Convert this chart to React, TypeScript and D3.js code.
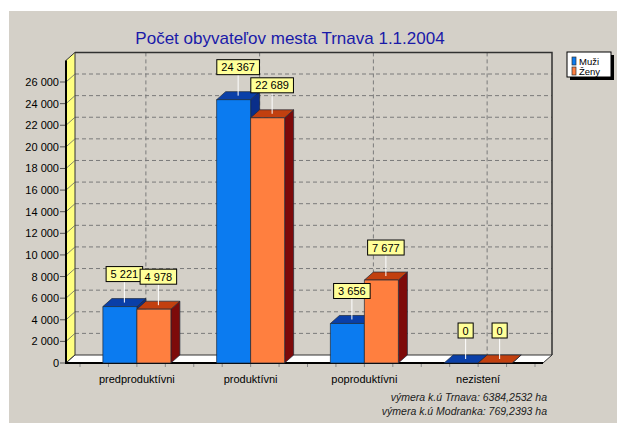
import React from "react";
import * as d3 from "d3";

const categories = ["predproduktívni", "produktívni", "poproduktívni", "nezistení"];
const seriesNames = ["Muži", "Ženy"];
const muzi = [5221, 24367, 3656, 0];
const zeny = [4978, 22689, 7677, 0];
const yTicks = [0, 2000, 4000, 6000, 8000, 10000, 12000, 14000, 16000, 18000, 20000, 22000, 24000, 26000];
const titleText = "Počet obyvateľov mesta Trnava 1.1.2004";
const footnotes = ["výmera k.ú Trnava: 6384,2532 ha", "výmera k.ú Modranka: 769,2393 ha"];

const W = 621;
const H = 424;
const DX = 9;
const DY = 8;
const FONT = "'Liberation Sans', Arial, sans-serif";

const palette = [
  { front: "#0b7bf0", top: "#0a3fa8", side: "#0a2f8a" },
  { front: "#ff7f3f", top: "#c2400f", side: "#7d0a0a" },
];

const locale = d3.formatLocale({ decimal: ",", thousands: "\u00a0", grouping: [3], currency: ["", ""] });
const fmt = locale.format(",d");

let ctx: CanvasRenderingContext2D | null = null;
function textW(s: string, size: number) {
  if (!ctx) {
    const c = document.createElement("canvas");
    ctx = c.getContext("2d");
  }
  if (!ctx) return s.length * size * 0.55;
  ctx.font = `${size}px ${FONT}`;
  return ctx.measureText(s).width;
}

export default function App() {
  const plotLeft = 66;
  const plotRight = 543;
  const y = d3.scaleLinear().domain([0, 28000]).range([363, 60.4]);
  const x = d3.scaleBand<string>().domain(categories).range([80, 535]).paddingInner(0).paddingOuter(0);
  const xs = d3.scaleBand<string>().domain(seriesNames).range([-34, 34]);
  const series = [muzi, zeny];

  const y0 = y(0);
  const yTop = y(28000);

  const barEls: React.ReactNode[] = [];
  const labelEls: React.ReactNode[] = [];

  categories.forEach((cat, ci) => {
    const cx = (x(cat) as number) + x.bandwidth() / 2;
    seriesNames.forEach((sn, si) => {
      const v = series[si][ci];
      const x0 = cx + (xs(sn) as number);
      const x1 = x0 + xs.bandwidth();
      const yt = y(v);
      const col = palette[si];
      barEls.push(
        <g key={`b-${ci}-${si}`} stroke="#1e2a3a" strokeWidth={0.7} strokeLinejoin="round">
          <polygon points={`${x1},${yt} ${x1 + DX},${yt - DY} ${x1 + DX},${y0 - DY} ${x1},${y0}`} fill={col.side} />
          <polygon points={`${x0},${yt} ${x1},${yt} ${x1 + DX},${yt - DY} ${x0 + DX},${yt - DY}`} fill={col.top} />
          <rect x={x0} y={yt} width={x1 - x0} height={y0 - yt} fill={col.front} />
        </g>
      );
      const txt = fmt(v);
      const bw = textW(txt, 11) + 9;
      const lx = (x0 + x1) / 2 + DX / 2;
      const ly = yt - DY / 2;
      const boxBottom = ly - 21;
      labelEls.push(
        <g key={`l-${ci}-${si}`}>
          <line x1={lx} x2={lx} y1={ly} y2={boxBottom} stroke="#ffffff" strokeWidth={1} />
          <rect x={lx - bw / 2} y={boxBottom - 15} width={bw} height={15} fill="#ffff99" stroke="#000" strokeWidth={1} />
          <text x={lx} y={boxBottom - 3.5} textAnchor="middle" fontSize={11} fontFamily={FONT} fill="#000">
            {txt}
          </text>
        </g>
      );
    });
  });

  const minorTicks: number[] = [];
  categories.forEach((cat) => {
    const start = x(cat) as number;
    for (let k = 0; k < 4; k++) minorTicks.push(start + (k * x.step()) / 4);
  });
  minorTicks.push((x(categories[categories.length - 1]) as number) + x.step());

  return (
    <svg width={W} height={H} style={{ position: "absolute", left: 0, top: 0 }}>
      <rect x={0} y={0} width={W} height={H} fill="#ffffff" />
      <rect x={9} y={11} width={608} height={412} fill="#d4d0c8" />

      <text x={290} y={44} textAnchor="middle" fontSize={17} fontFamily={FONT} fill="#1a1aa8">
        {titleText}
      </text>

      {/* back wall grid */}
      {yTicks.filter((t) => t > 0).map((t) => (
        <line key={`g-${t}`} x1={plotLeft + DX} x2={plotRight + DX} y1={y(t) - DY} y2={y(t) - DY}
          stroke="#7a7a7a" strokeWidth={1} strokeDasharray="4,3" />
      ))}
      {categories.map((cat) => {
        const cx = (x(cat) as number) + x.bandwidth() / 2 + DX;
        return (
          <line key={`v-${cat}`} x1={cx} x2={cx} y1={yTop - DY} y2={y0 - DY}
            stroke="#7a7a7a" strokeWidth={1} strokeDasharray="4,3" />
        );
      })}
      <polyline points={`${plotLeft + DX},${yTop - DY} ${plotRight + DX},${yTop - DY} ${plotRight + DX},${y0 - DY}`}
        fill="none" stroke="#303030" strokeWidth={1.5} />

      {/* left wall */}
      <polygon points={`${plotLeft},${yTop} ${plotLeft + DX},${yTop - DY} ${plotLeft + DX},${y0 - DY} ${plotLeft},${y0}`}
        fill="#ffff80" stroke="#333" strokeWidth={1} />
      {yTicks.map((t) => (
        <g key={`t-${t}`}>
          <line x1={plotLeft} y1={y(t)} x2={plotLeft + DX} y2={y(t) - DY} stroke="#666" strokeWidth={0.8} />
          <line x1={plotLeft - 6} x2={plotLeft} y1={y(t)} y2={y(t)} stroke="#555" strokeWidth={1} />
          <text x={59} y={y(t) + 4} textAnchor="end" fontSize={11} fontFamily={FONT} fill="#000">
            {fmt(t)}
          </text>
        </g>
      ))}
      <line x1={plotLeft} x2={plotLeft} y1={yTop} y2={y0 + 1} stroke="#000" strokeWidth={2} />

      {/* floor */}
      <polygon points={`${plotLeft},${y0} ${plotRight},${y0} ${plotRight + DX},${y0 - DY} ${plotLeft + DX},${y0 - DY}`}
        fill="#ffffff" stroke="#333" strokeWidth={1} />
      <line x1={plotLeft} x2={plotRight} y1={y0} y2={y0} stroke="#000" strokeWidth={2} />
      {minorTicks.map((t, i) => (
        <line key={`m-${i}`} x1={t} x2={t} y1={y0 + 1} y2={y0 + 4} stroke="#888" strokeWidth={1} />
      ))}

      {barEls}
      {labelEls}

      {categories.map((cat) => (
        <text key={`c-${cat}`} x={(x(cat) as number) + x.bandwidth() / 2} y={383} textAnchor="middle"
          fontSize={11} fontFamily={FONT} fill="#000">
          {cat}
        </text>
      ))}

      {/* legend */}
      <rect x={570} y={55} width={44} height={25} fill="#000" />
      <rect x={567} y={52} width={44} height={25} fill="#ffffff" stroke="#000" strokeWidth={1} />
      {seriesNames.map((s, i) => (
        <g key={`lg-${s}`}>
          <rect x={572} y={57 + i * 10} width={4} height={8} fill={palette[i].front} stroke="#333" strokeWidth={0.7} />
          <text x={579} y={65 + i * 10} fontSize={9.5} fontFamily={FONT} fill="#000">
            {s}
          </text>
        </g>
      ))}

      {footnotes.map((f, i) => (
        <text key={`f-${i}`} x={547} y={401 + i * 14} textAnchor="end" fontSize={10.5} fontStyle="italic"
          fontFamily={FONT} fill="#202020">
          {f}
        </text>
      ))}
    </svg>
  );
}
